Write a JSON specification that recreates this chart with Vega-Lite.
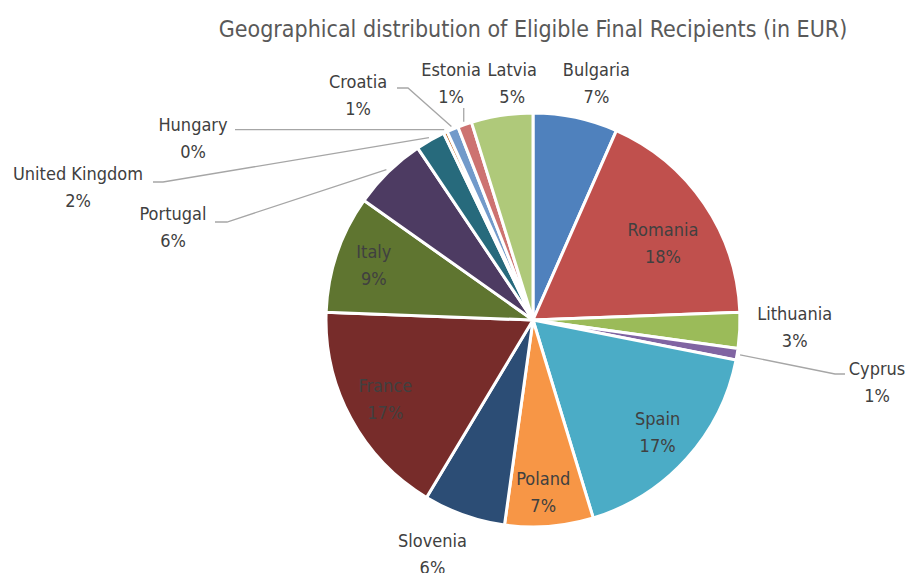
{
  "$schema": "https://vega.github.io/schema/vega-lite/v6.json",
  "width": 750,
  "height": 506,
  "autosize": {"type": "none"},
  "padding": {"left": 158, "top": 67, "right": 0, "bottom": 0},
  "background": "white",
  "config": {"view": {"stroke": null}, "font": "DejaVu Sans Condensed"},
  "title": {
    "text": "Geographical distribution of Eligible Final Recipients (in EUR)",
    "font": "DejaVu Sans Condensed",
    "fontSize": 23,
    "fontWeight": "normal",
    "color": "#595959",
    "anchor": "middle",
    "frame": "group",
    "offset": 20
  },
  "data": {
    "values": [
      {"country": "Bulgaria", "value": 6.6},
      {"country": "Romania", "value": 17.8},
      {"country": "Lithuania", "value": 2.8},
      {"country": "Cyprus", "value": 0.9},
      {"country": "Spain", "value": 17.2},
      {"country": "Poland", "value": 6.9},
      {"country": "Slovenia", "value": 6.4},
      {"country": "France", "value": 17.0},
      {"country": "Italy", "value": 9.2},
      {"country": "Portugal", "value": 5.8},
      {"country": "United Kingdom", "value": 2.3},
      {"country": "Hungary", "value": 0.3},
      {"country": "Croatia", "value": 0.9},
      {"country": "Estonia", "value": 1.1},
      {"country": "Latvia", "value": 4.8}
    ]
  },
  "transform": [
    {"joinaggregate": [{"op": "sum", "field": "value", "as": "total"}]},
    {"window": [{"op": "row_number", "as": "idx"}, {"op": "sum", "field": "value", "as": "cum"}], "frame": [null, 0]},
    {"calculate": "datum.cum - datum.value/2", "as": "midv"},
    {"calculate": "2*PI*datum.midv/datum.total", "as": "mid"},
    {"calculate": "[datum.country, format(datum.value/datum.total, '.0%')]", "as": "label"}
  ],
  "layer": [
    {
      "mark": {"type": "arc", "outerRadius": 207, "stroke": "white", "strokeWidth": 3},
      "encoding": {
        "theta": {"field": "value", "type": "quantitative", "stack": true},
        "order": {"field": "idx", "type": "quantitative", "sort": "ascending"},
        "color": {
          "field": "country",
          "type": "nominal",
          "legend": null,
          "scale": {
            "domain": ["Bulgaria", "Romania", "Lithuania", "Cyprus", "Spain", "Poland", "Slovenia", "France", "Italy", "Portugal", "United Kingdom", "Hungary", "Croatia", "Estonia", "Latvia"],
            "range": ["#4F81BD", "#C0504D", "#9BBB59", "#8064A2", "#4BACC6", "#F79646", "#2C4D75", "#772C2A", "#5F7530", "#4D3B62", "#276A7C", "#B65708", "#729ACA", "#CD7371", "#AFC97A"]
          }
        }
      }
    },
    {
      "transform": [{"filter": {"field": "country", "oneOf": ["Spain", "France", "Italy"]}}],
      "mark": {"type": "text", "radius": 168, "dy": -13, "fontSize": 18, "color": "#404040", "lineHeight": 27, "baseline": "middle", "align": "center"},
      "encoding": {
        "theta": {"field": "midv", "type": "quantitative", "stack": null},
        "text": {"field": "label"}
      }
    },
    {
      "transform": [{"filter": {"field": "country", "equal": "Romania"}}],
      "mark": {"type": "text", "radius": 168, "dx": -9, "dy": 5, "fontSize": 18, "color": "#404040", "lineHeight": 27, "baseline": "middle", "align": "center"},
      "encoding": {
        "theta": {"field": "midv", "type": "quantitative", "stack": null},
        "text": {"field": "label"}
      }
    },
    {
      "transform": [{"filter": {"field": "country", "equal": "Poland"}}],
      "mark": {"type": "text", "radius": 168, "dx": -3, "dy": -7, "fontSize": 18, "color": "#404040", "lineHeight": 27, "baseline": "middle", "align": "center"},
      "encoding": {
        "theta": {"field": "midv", "type": "quantitative", "stack": null},
        "text": {"field": "label"}
      }
    },
    {
      "transform": [{"filter": {"field": "country", "equal": "Bulgaria"}}],
      "mark": {"type": "text", "radius": 245, "dx": 13, "dy": -9, "fontSize": 18, "color": "#404040", "lineHeight": 27, "baseline": "middle", "align": "center"},
      "encoding": {
        "theta": {"field": "midv", "type": "quantitative", "stack": null},
        "text": {"field": "label"}
      }
    },
    {
      "transform": [{"filter": {"field": "country", "equal": "Latvia"}}],
      "mark": {"type": "text", "radius": 245, "dx": 16, "dy": -7, "fontSize": 18, "color": "#404040", "lineHeight": 27, "baseline": "middle", "align": "center"},
      "encoding": {
        "theta": {"field": "midv", "type": "quantitative", "stack": null},
        "text": {"field": "label"}
      }
    },
    {
      "transform": [{"filter": {"field": "country", "equal": "Lithuania"}}],
      "mark": {"type": "text", "radius": 245, "dx": 17, "dy": -17, "fontSize": 18, "color": "#404040", "lineHeight": 27, "baseline": "middle", "align": "center"},
      "encoding": {
        "theta": {"field": "midv", "type": "quantitative", "stack": null},
        "text": {"field": "label"}
      }
    },
    {
      "transform": [{"filter": {"field": "country", "equal": "Slovenia"}}],
      "mark": {"type": "text", "radius": 245, "dx": -19, "dy": -9, "fontSize": 18, "color": "#404040", "lineHeight": 27, "baseline": "middle", "align": "center"},
      "encoding": {
        "theta": {"field": "midv", "type": "quantitative", "stack": null},
        "text": {"field": "label"}
      }
    },
    {
      "transform": [
        {"filter": {"field": "country", "oneOf": ["Hungary", "United Kingdom", "Portugal", "Croatia", "Estonia", "Cyprus"]}},
        {"calculate": "datum.country=='Hungary'?-340:datum.country=='United Kingdom'?-455:datum.country=='Portugal'?-360:datum.country=='Croatia'?-175:datum.country=='Estonia'?-82:344", "as": "lx"},
        {"calculate": "datum.country=='Hungary'?181:datum.country=='United Kingdom'?132:datum.country=='Portugal'?92:datum.country=='Croatia'?224:datum.country=='Estonia'?236:-63", "as": "ly"}
      ],
      "mark": {"type": "text", "dy": -13, "fontSize": 18, "color": "#404040", "lineHeight": 27, "baseline": "middle", "align": "center"},
      "encoding": {
        "x": {"field": "lx", "type": "quantitative", "axis": null, "scale": {"domain": [-375, 375], "nice": false, "zero": false}},
        "y": {"field": "ly", "type": "quantitative", "axis": null, "scale": {"domain": [-253, 253], "nice": false, "zero": false}},
        "text": {"field": "label"}
      }
    },
    {
      "transform": [
        {"filter": {"field": "country", "oneOf": ["Hungary", "United Kingdom", "Portugal", "Croatia", "Estonia", "Cyprus"]}},
        {"calculate": "210*sin(datum.mid)", "as": "sx"},
        {"calculate": "210*cos(datum.mid)", "as": "sy"},
        {"calculate": "datum.country=='Hungary'?[{i:0,x:datum.sx,y:datum.sy},{i:1,x:-298,y:datum.sy}]:datum.country=='United Kingdom'?[{i:0,x:datum.sx,y:datum.sy},{i:1,x:-370,y:138},{i:2,x:-380,y:138}]:datum.country=='Portugal'?[{i:0,x:datum.sx,y:datum.sy},{i:1,x:-306,y:98},{i:2,x:-318,y:98}]:datum.country=='Croatia'?[{i:0,x:datum.sx,y:datum.sy},{i:1,x:-125,y:232},{i:2,x:-136,y:232}]:datum.country=='Estonia'?[{i:0,x:datum.sx,y:datum.sy},{i:1,x:datum.sx,y:212}]:[{i:0,x:datum.sx,y:datum.sy},{i:1,x:302,y:-54},{i:2,x:312,y:-54}]", "as": "pts"},
        {"flatten": ["pts"], "as": ["pt"]},
        {"calculate": "datum.pt.x", "as": "px"},
        {"calculate": "datum.pt.y", "as": "py"},
        {"calculate": "datum.pt.i", "as": "pi"}
      ],
      "mark": {"type": "line", "color": "#A6A6A6", "strokeWidth": 1.3},
      "encoding": {
        "x": {"field": "px", "type": "quantitative", "axis": null, "scale": {"domain": [-375, 375], "nice": false, "zero": false}},
        "y": {"field": "py", "type": "quantitative", "axis": null, "scale": {"domain": [-253, 253], "nice": false, "zero": false}},
        "detail": {"field": "country"},
        "order": {"field": "pi", "type": "quantitative"}
      }
    }
  ]
}
